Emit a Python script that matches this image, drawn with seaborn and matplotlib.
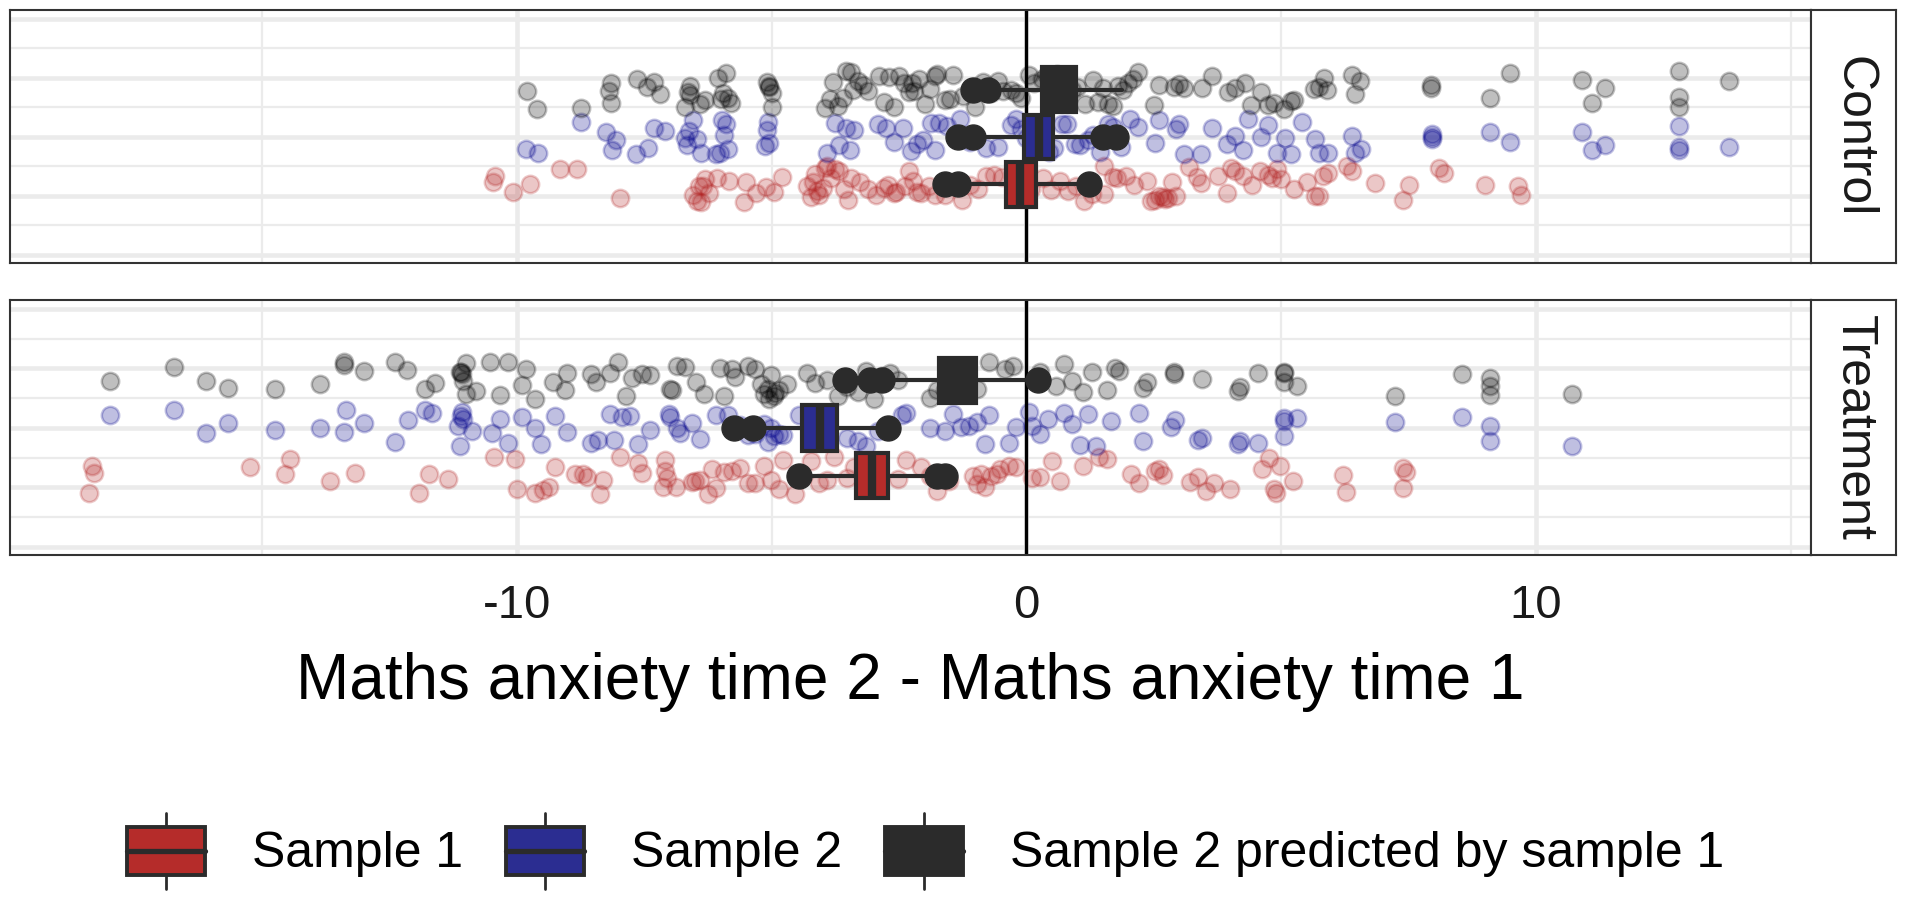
import numpy as np
import seaborn as sns
import matplotlib.pyplot as plt
from matplotlib.patches import Patch, Rectangle
from matplotlib.lines import Line2D
from matplotlib.legend_handler import HandlerBase

# ---- data ----
groups = ['Sample 1', 'Sample 2', 'Sample 2 predicted by sample 1']
conditions = ['Control', 'Treatment']

control_s1 = [-10.47, -10.43, -10.07, -9.75, -9.15, -8.83, -7.98,
              -6.55, -6.47, -6.43, -6.39, -6.35, -6.31, -6.23, -6.07, -5.83, -5.55, -5.51,
              -5.31, -5.11, -4.95, -4.79, -4.31, -4.23, -4.19, -4.15, -4.11, -4.07, -3.99,
              -3.95, -3.91, -3.83, -3.75, -3.67, -3.59, -3.51, -3.45, -3.27, -3.11, -2.95,
              -2.79, -2.71, -2.6, -2.55, -2.39, -2.3, -2.23, -2.15, -2.07, -1.91, -1.8,
              -1.59, -1.4, -1.27, -1.11, -0.95, -0.79, -0.63, -0.47, -0.15, 0.09, 0.33, 0.49,
              0.65, 0.81, 0.97, 1.13, 1.29, 1.53, 1.53, 1.70, 1.77, 1.95, 2.11, 2.36, 2.44,
              2.52, 2.60, 2.69, 2.73, 2.77, 2.85, 2.93, 3.20, 3.35, 3.43, 3.76, 3.93, 4.01,
              4.10, 4.26, 4.42, 4.59, 4.75, 4.83, 4.92, 5.00, 5.25, 5.50, 5.66, 5.74, 5.83,
              5.91, 6.30, 6.40, 6.85, 7.40, 7.50, 8.10, 8.20, 9.00, 9.65, 9.70]
control_s2 = [-9.83, -9.59, -8.74, -8.26, -8.14, -8.06, -7.67, -7.43, -7.31, -7.10,
              -6.70, -6.66, -6.62, -6.54, -6.46, -6.38, -6.10, -6.02, -5.98, -5.94, -5.90,
              -5.86, -5.13, -5.10, -5.07, -5.05, -3.91, -3.75, -3.67, -3.55, -3.47, -3.39,
              -2.91, -2.75, -2.59, -2.43, -2.27, -2.15, -2.03, -1.87, -1.79, -1.71, -1.55,
              -1.31, -1.11, -0.79, -0.55, -0.30, -0.20, -0.10, 0.00, 0.10, 0.20, 0.30, 0.45,
              0.55, 0.70, 0.80, 0.95, 1.05, 1.20, 1.30, 1.45, 1.60, 1.75, 1.70, 1.86, 2.03,
              2.20, 2.52, 2.60, 2.93, 3.00, 3.10, 3.43, 3.64, 3.93, 4.10, 4.26, 4.34, 4.60,
              4.75, 4.92, 5.08, 5.20, 5.40, 5.66, 5.74, 5.91, 6.40, 6.44, 6.57, 7.97, 7.97,
              7.97, 9.10, 9.50, 10.90, 11.10, 11.35, 12.80, 12.80, 12.80, 13.80]
control_pred = [-9.8, -9.6, -8.75, -8.2, -8.15, -8.15, -7.65, -7.45, -7.3, -7.2,
                -6.7, -6.65, -6.6, -6.6, -6.4, -6.3, -6.05, -6.0, -5.95, -5.9, -5.85, -5.8,
                -5.1, -5.05, -5.05, -5.0, -5.0, -3.95, -3.85, -3.8, -3.7, -3.6, -3.55, -3.45,
                -3.4, -3.3, -3.2, -3.1, -2.9, -2.8, -2.7, -2.6, -2.5, -2.4, -2.3, -2.25, -2.2,
                -2.1, -2.0, -1.9, -1.8, -1.75, -1.6, -1.5, -1.45, -1.25, -1.0, -0.85, -0.7,
                -0.55, -0.45, -0.3, -0.2, -0.1, 0.05, 0.15, 0.3, 0.4, 0.5, 0.6, 0.75, 0.9,
                1.0, 1.15, 1.3, 1.4, 1.5, 1.6, 1.7, 1.8, 1.9, 2.0, 2.1, 2.2, 2.5, 2.6, 2.9,
                3.0, 3.1, 3.45, 3.65, 3.95, 4.1, 4.3, 4.4, 4.6, 4.75, 4.85, 5.05, 5.2, 5.25,
                5.65, 5.75, 5.85, 5.9, 6.4, 6.45, 6.55, 7.95, 7.95, 9.1, 9.5, 10.9, 11.1,
                11.35, 12.8, 12.8, 12.8, 13.8]

treatment_s1 = [-18.4, -18.35, -18.3, -15.24, -14.56, -14.45, -13.67, -13.17, -11.93,
                -11.73, -11.35, -10.45, -10.03, -10.0, -9.64, -9.49, -9.37, -9.25, -8.86,
                -8.71, -8.63, -8.36, -8.32, -7.97, -7.62, -7.55, -7.13, -7.1, -7.06, -7.10,
                -6.87, -6.56, -6.50, -6.40, -6.25, -6.17, -6.10, -5.94, -5.78, -5.63, -5.47,
                -5.32, -5.16, -5.01, -4.85, -4.77, -4.54, -4.23, -4.07, -3.92, -3.77, -3.53,
                -3.38, -2.52, -2.37, -2.06, -1.90, -1.75, -1.52, -1.05, -0.97, -0.90, -0.82,
                -0.70, -0.58, -0.51, -0.35, -0.20, 0.11, 0.27, 0.50, 0.66, 1.12, 1.43, 1.59,
                2.05, 2.21, 2.52, 2.60, 2.68, 3.22, 3.37, 3.53, 3.68, 3.99, 4.62, 4.77, 4.85,
                4.90, 4.98, 5.24, 6.22, 6.28, 7.40, 7.40, 7.46]
treatment_s2 = [-17.98, -16.74, -16.1, -15.68, -14.74, -13.86, -13.4, -13.36, -13.0, -12.4,
                -12.14, -11.81, -11.66, -11.15, -11.12, -11.1, -11.08, -11.05, -10.88, -10.49,
                -10.34, -10.18, -9.91, -9.64, -9.52, -9.25, -9.02, -8.55, -8.4, -8.17, -8.09,
                -7.94, -7.78, -7.63, -7.39, -7.0, -6.85, -7.02, -6.79, -6.56, -6.40, -6.09,
                -5.86, -5.63, -5.47, -5.32, -5.16, -5.08, -5.01, -4.95, -4.85, -4.77, -4.46,
                -4.23, -3.53, -3.30, -3.15, -2.91, -2.45, -2.37, -1.90, -1.59, -1.44, -1.28,
                -1.13, -0.97, -0.82, -0.74, -0.35, -0.20, 0.05, 0.11, 0.27, 0.42, 0.74, 0.89,
                1.05, 1.20, 1.36, 1.67, 2.21, 2.29, 2.83, 2.91, 3.37, 3.45, 4.15, 4.19, 4.54,
                5.05, 5.05, 5.05, 5.31, 7.24, 8.54, 9.1, 9.1, 10.7]
treatment_pred = [-17.98, -16.74, -16.1, -15.68, -14.74, -13.86, -13.4, -13.4, -13.0, -12.4,
                  -12.15, -11.8, -11.6, -11.12, -11.1, -11.08, -11.05, -11.0, -11.0, -10.8,
                  -10.53, -10.34, -10.18, -9.91, -9.83, -9.64, -9.29, -9.06, -9.02, -8.55,
                  -8.44, -8.17, -8.01, -7.86, -7.74, -7.55, -7.39, -7.0, -6.85, -6.95, -6.71,
                  -6.48, -6.33, -6.02, -5.94, -5.78, -5.71, -5.47, -5.32, -5.2, -5.16, -5.08,
                  -5.05, -5.01, -4.95, -4.93, -4.85, -4.70, -4.31, -4.15, -3.92, -3.69, -3.53,
                  -3.30, -3.15, -2.99, -2.83, -2.68, -2.52, -1.90, -1.75, -1.59, -1.28, -0.97,
                  -0.74, -0.43, -0.27, 0.27, 0.58, 0.74, 0.89, 1.12, 1.28, 1.59, 1.74, 1.82,
                  2.29, 2.36, 2.9, 2.9, 3.45, 4.15, 4.19, 4.54, 5.05, 5.05, 5.05, 5.31, 7.24,
                  8.54, 9.1, 9.1, 9.1, 10.7]

# box summaries, order: Sample 1, Sample 2, predicted
control_q1 = [-0.41, -0.05, 0.30]
control_med = [-0.12, 0.24, 0.65]
control_q3 = [0.18, 0.53, 0.98]
control_lo = [-1.35, -1.04, -0.75]
control_hi = [1.22, 1.51, 1.88]
control_fliers = [[-1.59, -1.35, 1.22], [-1.35, -1.04, 1.51, 1.75], [-1.04, -0.75]]

treatment_q1 = [-3.35, -4.40, -1.72]
treatment_med = [-3.03, -4.06, -1.35]
treatment_q3 = [-2.71, -3.72, -0.99]
treatment_lo = [-4.46, -5.36, -2.84]
treatment_hi = [-1.59, -2.72, 0.23]
treatment_fliers = [[-4.46, -1.75, -1.59], [-5.74, -5.36, -2.72], [-3.57, -3.07, -2.84, 0.23]]

# ---- style ----
GROUP_Y = [1, 2, 3]
PT_COLORS = ['#B22222', '#00008B', '#000000']
BOX_COLORS = ['#B52C2A', '#2B2D91', '#2B2B2B']
DARK = '#2B2B2B'
GRID = '#EBEBEB'
Y_MAJOR = [-0.5, 0.75, 2.0, 3.25, 4.5]
Y_MINOR = [0.125, 1.375, 2.625, 3.875]

sns.set_theme(style='white')
plt.rcParams['font.family'] = ['Liberation Sans', 'DejaVu Sans']
plt.rcParams['axes.unicode_minus'] = False
plt.rcParams['text.color'] = 'black'
np.random.seed(3)


class BoxKey(HandlerBase):
    def create_artists(self, legend, orig_handle, xdescent, ydescent, width, height, fontsize, trans):
        fc = orig_handle.get_facecolor()
        cx = width / 2 - xdescent
        bh = height * 0.64
        y0 = (height - bh) / 2 - ydescent
        whisk = Line2D([cx, cx], [-ydescent, height - ydescent], color=DARK, lw=2, transform=trans)
        box = Rectangle((-xdescent, y0), width, bh, facecolor=fc, edgecolor=DARK, lw=2.8, transform=trans)
        med = Line2D([-xdescent, width - xdescent], [y0 + bh / 2] * 2, color=DARK, lw=3.8, transform=trans)
        return [whisk, box, med]


def draw_panel(ax, points, q1, med, q3, lo, hi, fliers):
    for k in range(3):
        vals = np.asarray(points[k], dtype=float)
        sns.stripplot(x=vals, y=np.full(len(vals), GROUP_Y[k], dtype=float), orient='h',
                      native_scale=True, jitter=0.4, color=PT_COLORS[k], edgecolor=PT_COLORS[k],
                      linewidth=1.8, size=12.5, alpha=0.25, ax=ax, zorder=1)
    ax.axvline(0, color='black', lw=2.4, zorder=1.8)
    stats = [dict(q1=q1[k], med=med[k], q3=q3[k], whislo=lo[k], whishi=hi[k], fliers=fliers[k])
             for k in range(3)]
    bp = ax.bxp(stats, positions=GROUP_Y, widths=0.95, orientation='horizontal', patch_artist=True,
                showcaps=False, manage_ticks=False,
                boxprops=dict(edgecolor=DARK, linewidth=3),
                whiskerprops=dict(color=DARK, linewidth=3),
                medianprops=dict(color=DARK, linewidth=6),
                flierprops=dict(marker='o', markersize=18, markerfacecolor=DARK, markeredgecolor=DARK),
                zorder=3)
    for patch, c in zip(bp['boxes'], BOX_COLORS):
        patch.set_facecolor(c)

    ax.set_xlim(-19.95, 15.4)
    ax.set_ylim(-0.67, 4.69)
    ax.set_xticks([-10, 0, 10])
    ax.set_xticks([-15, -5, 5, 15], minor=True)
    ax.set_yticks(Y_MAJOR)
    ax.set_yticks(Y_MINOR, minor=True)
    ax.grid(which='major', color=GRID, lw=3.3)
    ax.grid(which='minor', color=GRID, lw=1.6)
    ax.set_axisbelow(True)
    ax.tick_params(axis='y', which='both', length=0, labelleft=False)
    ax.set_xlabel('')
    ax.set_ylabel('')
    for s in ax.spines.values():
        s.set_color('#333333')
        s.set_linewidth(1.5)


fig = plt.figure(figsize=(19.2, 9.07), dpi=100)
ax_top = fig.add_axes([0.00521, 0.71003, 0.93802, 0.27894])
ax_bot = fig.add_axes([0.00521, 0.38810, 0.93802, 0.28115])

draw_panel(ax_top, [control_s1, control_s2, control_pred], control_q1, control_med, control_q3,
           control_lo, control_hi, control_fliers)
draw_panel(ax_bot, [treatment_s1, treatment_s2, treatment_pred], treatment_q1, treatment_med,
           treatment_q3, treatment_lo, treatment_hi, treatment_fliers)

ax_top.tick_params(axis='x', which='both', length=0, labelbottom=False)
ax_bot.tick_params(axis='x', which='major', length=9, width=2, color='#333333', labelsize=34,
                   labelcolor='#1A1A1A', pad=12)
ax_bot.tick_params(axis='x', which='minor', length=0)
ax_bot.set_xlabel('Maths anxiety time 2 - Maths anxiety time 1', fontsize=46, labelpad=17,
                  color='black')

# facet strips
for ax, cond in zip([ax_top, ax_bot], conditions):
    pos = ax.get_position()
    sax = fig.add_axes([0.94323, pos.y0, 0.0443, pos.height])
    sax.set_xticks([])
    sax.set_yticks([])
    sax.set_facecolor('white')
    for s in sax.spines.values():
        s.set_color('#333333')
        s.set_linewidth(1.5)
    sax.text(0.5, 0.5, cond, rotation=270, ha='center', va='center', fontsize=36,
             color='#1A1A1A', transform=sax.transAxes)

handles = [Patch(facecolor=c, label=g) for g, c in zip(groups, BOX_COLORS)]
fig.legend(handles=handles, handler_map={Patch: BoxKey()}, loc='center',
           bbox_to_anchor=(0.482, 0.0617), ncol=3, frameon=False, fontsize=36,
           handlelength=1.56, handleheight=1.95, handletextpad=0.94, columnspacing=0.86)

fig.savefig('out.png', dpi=100)
